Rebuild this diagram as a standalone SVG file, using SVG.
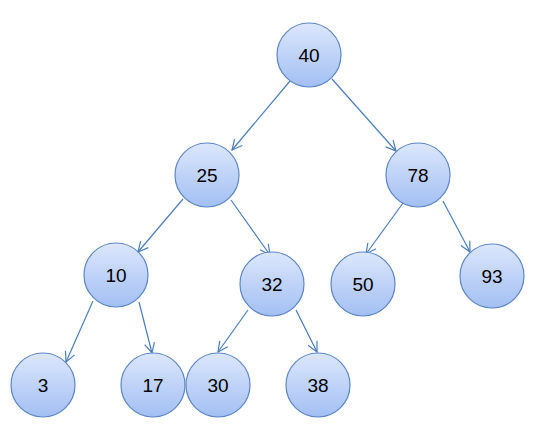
<svg xmlns="http://www.w3.org/2000/svg" width="546" height="448" viewBox="0 0 546 448">
<defs>
<linearGradient id="g" x1="0" y1="0" x2="0" y2="1">
<stop offset="0" stop-color="#dce7fc"/>
<stop offset="1" stop-color="#a3bff3"/>
</linearGradient>
<marker id="a" viewBox="0 0 12 12" refX="11" refY="6" markerWidth="12" markerHeight="12" markerUnits="userSpaceOnUse" orient="auto">
<path d="M1,1 L11,6 L1,11" fill="none" stroke="#4a7ebb" stroke-width="1.2"/>
</marker>
</defs>
<style>
.n circle{fill:url(#g);stroke:#5d87c4;stroke-width:1.2}
.n text{font-family:"Liberation Sans",Arial,sans-serif;font-size:19px;fill:#000;text-anchor:middle;dominant-baseline:central}
#edges line{stroke:#4a7ebb;stroke-width:1.2;marker-end:url(#a)}
</style>
<rect width="546" height="448" fill="#fff"/>
<g id="edges">
<line x1="290" y1="81" x2="232" y2="150"/>
<line x1="332" y1="79" x2="396" y2="151"/>
<line x1="183" y1="199" x2="138" y2="252"/>
<line x1="231" y1="200" x2="270" y2="255"/>
<line x1="403" y1="203" x2="366" y2="254"/>
<line x1="443" y1="201" x2="470" y2="252"/>
<line x1="93" y1="301" x2="66" y2="362"/>
<line x1="139" y1="302" x2="152" y2="353"/>
<line x1="248" y1="310" x2="218" y2="352"/>
<line x1="296" y1="310" x2="317" y2="352"/>
</g>
<g id="n40" class="n"><circle cx="309" cy="55" r="32"/><text x="309" y="55">40</text></g>
<g id="n25" class="n"><circle cx="207" cy="175" r="32"/><text x="207" y="175">25</text></g>
<g id="n78" class="n"><circle cx="418" cy="175" r="32"/><text x="418" y="175">78</text></g>
<g id="n10" class="n"><circle cx="116" cy="275" r="32"/><text x="116" y="275">10</text></g>
<g id="n32" class="n"><circle cx="272" cy="284" r="32"/><text x="272" y="284">32</text></g>
<g id="n50" class="n"><circle cx="363" cy="284" r="32"/><text x="363" y="284">50</text></g>
<g id="n93" class="n"><circle cx="492" cy="276" r="32"/><text x="492" y="276">93</text></g>
<g id="n3" class="n"><circle cx="43" cy="385" r="32"/><text x="43" y="385">3</text></g>
<g id="n17" class="n"><circle cx="153" cy="385" r="32"/><text x="153" y="385">17</text></g>
<g id="n30" class="n"><circle cx="218" cy="385" r="32"/><text x="218" y="385">30</text></g>
<g id="n38" class="n"><circle cx="318" cy="385" r="32"/><text x="318" y="385">38</text></g>
</svg>
